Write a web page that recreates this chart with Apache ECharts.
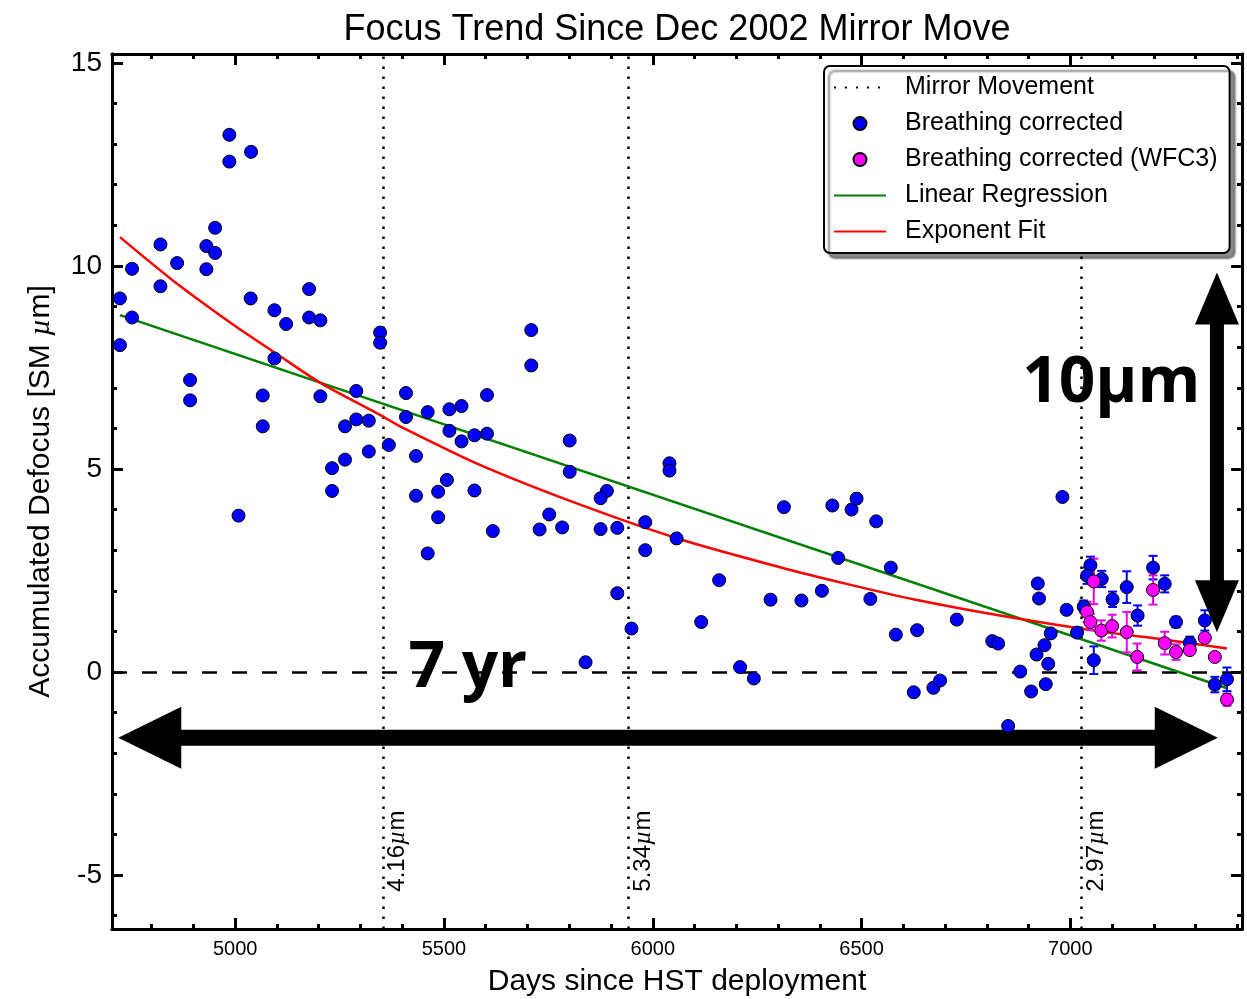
<!DOCTYPE html>
<html>
<head>
<meta charset="utf-8">
<script src="https://cdn.jsdelivr.net/npm/echarts@6/dist/echarts.min.js"></script>
<style>
html,body{margin:0;padding:0;background:#fff;}
#c{width:1247px;height:999px;}
</style>
</head>
<body>
<div id="c"></div>
<script>
// ---------------- data ----------------
const blueX = [4986,5038,4986,4952,4821,4931,4952,4861,4753,4931,4821,4724,5037,4753,4724,5094,5122,5177,5177,5204,5347,5347,5094,4892,4892,5066,5066,5204,5290,5263,5290,5320,5368,5232,5263,5320,5232,5008,
  5709,5709,5409,5409,5461,5513,5542,5603,5513,5542,5573,5603,5433,5801,5801,5507,5486,5433,5573,5486,5461,5617,6040,6040,5890,5875,5752,5729,5783,5875,5915,5982,5982,6057,5915,5949,5839,
  6159,6116,6209,6242,6314,6282,6356,6405,6430,6476,6488,6444,6535,6570,6521,6582,6633,6625,6672,6688,6728,6813,6827,6851,
  6981,6922,6925,6991,6953,7016,6938,6919,6947,6880,6941,6906];
const blueY = [13.23,12.81,12.57,10.94,10.53,10.49,10.32,10.07,9.93,9.92,9.50,9.20,9.20,8.73,8.05,8.91,8.57,9.43,8.73,8.66,8.36,8.11,7.72,7.19,6.69,6.81,6.05,6.79,6.92,6.05,6.22,6.19,5.59,5.02,5.23,5.43,4.46,3.85,
  8.42,7.55,6.87,6.28,6.40,6.47,6.55,6.82,5.94,5.68,5.83,5.87,5.32,5.70,4.93,4.73,4.44,4.34,4.47,3.81,2.92,3.47,5.14,4.96,4.46,4.28,3.88,3.51,3.56,3.52,3.55,3.69,3.00,3.29,1.94,1.07,0.24,
  2.26,1.23,0.12,-0.16,4.06,1.78,1.76,2.00,4.10,4.00,4.27,2.81,3.71,2.57,1.80,0.92,1.03,-0.50,-0.39,-0.21,1.29,0.76,0.70,-1.33,
  4.31,2.18,1.81,1.53,0.95,0.97,0.66,0.43,0.20,0.01,-0.30,-0.48];

const blueErrX = [7048,7040,7075,7101,7135,7032,7161,7198,7226,7253,7286,7322,7056,7346,7375];
const blueErrY = [2.63,2.37,2.29,1.79,2.09,1.61,1.39,2.57,2.17,1.23,0.72,1.27,0.29,-0.31,-0.18];
const blueErr  = [0.21,0.20,0.20,0.19,0.39,0.15,0.25,0.29,0.21,0.13,0.15,0.25,0.34,0.19,0.29];

const magX   = [7056,7040,7048,7074,7100,7135,7160,7198,7226,7253,7286,7322,7346,7375];
const magY   = [2.23,1.48,1.23,1.02,1.13,0.98,0.37,2.02,0.71,0.49,0.54,0.84,0.37,-0.68];
const magErr = [0.56,0.25,0.20,0.25,0.28,0.50,0.33,0.36,0.28,0.19,0.10,0.10,0.05,0.15];

const linX = [4724, 7375];
const linY = [8.79, -0.40];

const expX = [4724, 4850, 5000, 5100, 5204, 5347, 5395, 5586, 5826, 6065, 6305, 6464, 6624, 6831, 7070, 7230, 7375];
const expY = [10.71, 9.65, 8.52, 7.83, 7.12, 6.33, 6.05, 5.10, 4.12, 3.27, 2.58, 2.17, 1.79, 1.39, 1.00, 0.79, 0.58];

const mirrorDays   = [5354, 5942, 7027];
const mirrorLabels = ['4.16', '5.34', '2.97'];

const xMajorTicks = [5000, 5500, 6000, 6500, 7000];
const xMinorTicks = [4800,4900,5000,5100,5200,5300,5400,5500,5600,5700,5800,5900,6000,6100,6200,6300,6400,6500,6600,6700,6800,6900,7000,7100,7200,7300,7400];
const yMajorTicks = [-5, 0, 5, 10, 15];
const yMinorTicks = [-6,-5,-4,-3,-2,-1,0,1,2,3,4,5,6,7,8,9,10,11,12,13,14,15];

const X_MIN = 4705, X_MAX = 7411, Y_MIN = -6.33, Y_MAX = 15.22;

// ---------------- chart ----------------
const FONT = "'Liberation Sans', Arial, Helvetica, sans-serif";
const BOLD = "'Open Sans', 'Noto Sans', sans-serif";

function xAx(pos, ticks, len, withLabels) {
  const a = {
    type: 'value', min: X_MIN, max: X_MAX, position: pos, gridIndex: 0,
    axisLine: { show: true, onZero: false, lineStyle: { color: '#000', width: 3 } },
    axisTick: { show: true, inside: true, length: len, customValues: ticks, lineStyle: { color: '#000', width: 3 } },
    axisLabel: { show: withLabels, customValues: xMajorTicks, fontSize: 20, color: '#000', fontFamily: FONT, margin: 10,
      formatter: v => String(v) },
    splitLine: { show: false }
  };
  if (withLabels) {
    a.name = 'Days since HST deployment';
    a.nameLocation = 'middle';
    a.nameGap = 38;
    a.nameTextStyle = { fontSize: 30, color: '#000', fontFamily: FONT };
  }
  return a;
}
function yAx(pos, ticks, len, withLabels) {
  const a = {
    type: 'value', min: Y_MIN, max: Y_MAX, position: pos, gridIndex: 0,
    axisLine: { show: true, onZero: false, lineStyle: { color: '#000', width: 3 } },
    axisTick: { show: true, inside: true, length: len, customValues: ticks, lineStyle: { color: '#000', width: 3 } },
    axisLabel: { show: withLabels, customValues: yMajorTicks, fontSize: 28, color: '#000', fontFamily: FONT, margin: 10,
      formatter: v => String(v) },
    splitLine: { show: false }
  };
  if (withLabels) {
    a.name = 'Accumulated Defocus [SM {i|µ}m]';
    a.nameLocation = 'middle';
    a.nameGap = 56;
    a.nameTextStyle = { fontSize: 30, color: '#000', fontFamily: FONT,
      rich: { i: { fontSize: 30, fontStyle: 'italic', fontFamily: "'Liberation Serif', serif", color: '#000' } } };
  }
  return a;
}

function errRender(color) {
  return function (params, api) {
    const x = api.value(0), y = api.value(1), e = api.value(2);
    const t = api.coord([x, y + e]), b = api.coord([x, y - e]);
    const cw = 4.5;
    const st = { stroke: color, lineWidth: 2 };
    return { type: 'group', children: [
      { type: 'line', shape: { x1: t[0], y1: t[1], x2: b[0], y2: b[1] }, style: st },
      { type: 'line', shape: { x1: t[0] - cw, y1: t[1], x2: t[0] + cw, y2: t[1] }, style: st },
      { type: 'line', shape: { x1: b[0] - cw, y1: b[1], x2: b[0] + cw, y2: b[1] }, style: st }
    ]};
  };
}

function annotRender(params, api) {
  const kids = [];
  // horizontal double arrow (7 yr)
  const L = api.coord([4720, -1.62]), R = api.coord([7353, -1.62]);
  const hl = 63, hh = 31, sh = 8, y = L[1];
  kids.push({ type: 'polygon', shape: { points: [
    [L[0], y], [L[0] + hl, y - hh], [L[0] + hl, y - sh], [R[0] - hl, y - sh], [R[0] - hl, y - hh],
    [R[0], y], [R[0] - hl, y + hh], [R[0] - hl, y + sh], [L[0] + hl, y + sh], [L[0] + hl, y + hh]
  ] }, style: { fill: '#000' } });
  // vertical double arrow (10 um)
  const T = api.coord([7351, 9.84]), B = api.coord([7351, 0.98]);
  const vl = 52, vh = 22, vs = 7, x = T[0];
  kids.push({ type: 'polygon', shape: { points: [
    [x, T[1]], [x + vh, T[1] + vl], [x + vs, T[1] + vl], [x + vs, B[1] - vl], [x + vh, B[1] - vl],
    [x, B[1]], [x - vh, B[1] - vl], [x - vs, B[1] - vl], [x - vs, T[1] + vl], [x - vh, T[1] + vl]
  ] }, style: { fill: '#000' } });
  // big labels
  const p7 = api.coord([5557, 0.07]);
  kids.push({ type: 'text', x: p7[0], y: p7[1], style: { text: '7 yr', fill: '#000',
    font: "bold 64px " + BOLD, align: 'center', verticalAlign: 'middle' } });
  const p10 = api.coord([7098, 7.09]);
  kids.push({ type: 'text', x: p10[0], y: p10[1], style: { text: '10µm', fill: '#000',
    font: "bold 64px " + BOLD, align: 'center', verticalAlign: 'middle' } });
  // mirror movement labels
  for (let i = 0; i < mirrorDays.length; i++) {
    const p = api.coord([mirrorDays[i], -5.41]);
    kids.push({ type: 'text', x: p[0] + 2, y: p[1], rotation: Math.PI / 2, style: {
      text: '{n|' + mirrorLabels[i] + '}{i|µ}{n|m}', fill: '#000', align: 'left', verticalAlign: 'top',
      rich: {
        n: { fontSize: 24, fontFamily: FONT, fill: '#000' },
        i: { fontSize: 25, fontStyle: 'italic', fontFamily: "'Liberation Serif', serif", fill: '#000' }
      } } });
  }
  return { type: 'group', children: kids };
}

const zip = (a, b) => a.map((v, i) => [v, b[i]]);
const zip3 = (a, b, c) => a.map((v, i) => [v, b[i], c[i]]);

const chart = echarts.init(document.getElementById('c'), null, { renderer: 'canvas' });
chart.setOption({
  animation: false,
  backgroundColor: '#fff',
  title: {
    text: 'Focus Trend Since Dec 2002 Mirror Move',
    left: 677, top: 12, textAlign: 'center', padding: 0,
    textStyle: { fontSize: 36, fontWeight: 'normal', color: '#000', fontFamily: FONT }
  },
  grid: { left: 112, right: 5, top: 54, bottom: 70, containLabel: false, outerBoundsMode: 'none' },
  legend: {
    orient: 'vertical', left: 824, top: 66, z: 50, zlevel: 0,
    data: [
      { name: 'Mirror Movement', itemStyle: { opacity: 0 } },
      { name: 'Breathing corrected' },
      { name: 'Breathing corrected (WFC3)' },
      { name: 'Linear Regression', itemStyle: { opacity: 0 } },
      { name: 'Exponent Fit', itemStyle: { opacity: 0 } }
    ],
    itemWidth: 52, itemHeight: 13, itemGap: 11,
    padding: [9, 12, 9, 9],
    backgroundColor: '#fff', borderColor: '#000', borderWidth: 2, borderRadius: 6,
    shadowColor: 'rgba(0,0,0,0.45)', shadowOffsetX: 5, shadowOffsetY: 5, shadowBlur: 2,
    textStyle: { fontSize: 25, color: '#000', fontFamily: FONT, padding: [0, 0, 0, 14] },
    selectedMode: false
  },
  xAxis: [xAx('bottom', xMajorTicks, 11, true), xAx('bottom', xMinorTicks, 5, false),
          xAx('top', xMajorTicks, 11, false), xAx('top', xMinorTicks, 5, false)],
  yAxis: [yAx('left', yMajorTicks, 11, true), yAx('left', yMinorTicks, 5, false),
          yAx('right', yMajorTicks, 11, false), yAx('right', yMinorTicks, 5, false)],
  series: [
    {
      type: 'custom', name: 'annot', silent: true, z: 1,
      data: [[X_MIN, 0]], encode: { x: 0, y: 1 },
      renderItem: annotRender
    },
    {
      type: 'line', name: 'Mirror Movement', data: [], symbol: 'none', z: 1,
      lineStyle: { color: '#000', width: 2, type: [2, 9] },
      itemStyle: { color: '#000' },
      markLine: {
        silent: true, symbol: ['none', 'none'], label: { show: false }, z: 1,
        lineStyle: { color: '#000', width: 2.5, type: [2.5, 7.5] },
        data: mirrorDays.map(d => ({ xAxis: d })).concat([
          { yAxis: 0, lineStyle: { color: '#000', width: 2.5, type: [15, 15] } }
        ])
      }
    },
    {
      type: 'line', name: 'Linear Regression', data: zip(linX, linY), symbol: 'none', showSymbol: false, z: 2,
      lineStyle: { color: '#008000', width: 2.5 }, itemStyle: { color: '#008000' }
    },
    {
      type: 'line', name: 'Exponent Fit', data: zip(expX, expY), symbol: 'none', showSymbol: false,
      smooth: 0.25, z: 2,
      lineStyle: { color: '#ff0000', width: 2.5 }, itemStyle: { color: '#ff0000' }
    },
    {
      type: 'custom', name: 'blueErr', z: 3, silent: true,
      data: zip3(blueErrX, blueErrY, blueErr), encode: { x: 0, y: 1 },
      renderItem: errRender('#0000ff')
    },
    {
      type: 'scatter', name: 'Breathing corrected', z: 3,
      data: zip(blueX, blueY).concat(zip(blueErrX, blueErrY)),
      symbol: 'circle', symbolSize: 13,
      itemStyle: { color: '#0000ff', borderColor: '#000', borderWidth: 1, opacity: 1 }
    },
    {
      type: 'custom', name: 'magErr', z: 3, silent: true,
      data: zip3(magX, magY, magErr), encode: { x: 0, y: 1 },
      renderItem: errRender('#ee00ee')
    },
    {
      type: 'scatter', name: 'Breathing corrected (WFC3)', z: 3,
      data: zip(magX, magY),
      symbol: 'circle', symbolSize: 13,
      itemStyle: { color: '#ff00ff', borderColor: '#000', borderWidth: 1, opacity: 1 }
    }
  ]
});
</script>
</body>
</html>
